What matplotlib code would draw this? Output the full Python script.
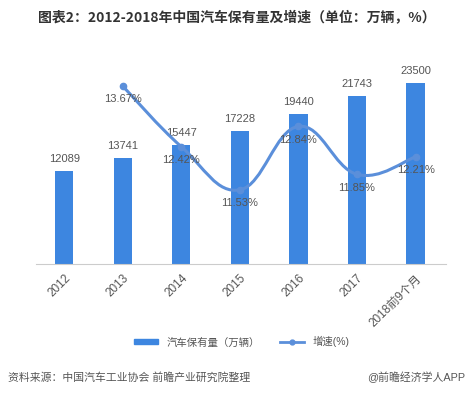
import matplotlib
matplotlib.use("Agg")
import matplotlib.pyplot as plt
from matplotlib.path import Path
from matplotlib.patches import PathPatch
from matplotlib.lines import Line2D
from matplotlib.patches import Patch

plt.rcParams['font.family'] = ['Liberation Sans', 'Noto Sans CJK SC', 'DejaVu Sans']

anos = ["2012", "2013", "2014", "2015", "2016", "2017", "2018前9个月"]
frota = [12089, 13741, 15447, 17228, 19440, 21743, 23500]
anos_taxa = [1, 2, 3, 4, 5, 6]
taxa = [13.67, 12.42, 11.53, 12.84, 11.85, 12.21]

cor_barra = "#3d86e0"
cor_linha = "#5b8fda"
cor_texto = "#555555"

fig = plt.figure(figsize=(4.74, 3.93), dpi=100)
ax = fig.add_axes([0.076, 0.328, 0.865, 0.511])
x = list(range(len(anos)))
ax.bar(x, frota, width=0.31, color=cor_barra, zorder=2)
ax.set_xlim(-0.48, 6.52)
ax.set_ylim(0, 26000)
for xi, v in zip(x, frota):
    ax.annotate(str(v), (xi, v), xytext=(0, 5), textcoords="offset points",
                ha="center", va="bottom", fontsize=8, color=cor_texto)

for s in ["top", "right", "left"]:
    ax.spines[s].set_visible(False)
ax.spines["bottom"].set_color("#cccccc")
ax.set_yticks([])
ax.set_xticks(x)
ax.set_xticklabels(anos, rotation=45, ha="right", rotation_mode="anchor",
                   fontsize=8.5, color=cor_texto)
ax.tick_params(axis="x", length=0, pad=6)

# linha suavizada (bezier entre os pontos)
ax2 = ax.twinx()
ax2.set_ylim(10.0, 14.14)
ax2.axis("off")
pts = list(zip(anos_taxa, taxa))
t = 0.2
verts = [pts[0]]
codes = [Path.MOVETO]
for i in range(len(pts) - 1):
    p0 = pts[i - 1] if i > 0 else pts[i]
    p1 = pts[i]
    p2 = pts[i + 1]
    p3 = pts[i + 2] if i + 2 < len(pts) else pts[i + 1]
    c1 = (p1[0] + (p2[0] - p0[0]) * t, p1[1] + (p2[1] - p0[1]) * t)
    c2 = (p2[0] - (p3[0] - p1[0]) * t, p2[1] - (p3[1] - p1[1]) * t)
    verts += [c1, c2, p2]
    codes += [Path.CURVE4] * 3
ax2.add_patch(PathPatch(Path(verts, codes), facecolor="none", edgecolor=cor_linha,
                        lw=2.2, zorder=3))
ax2.plot(anos_taxa, taxa, "o", color=cor_linha, ms=4.5, zorder=4)
for xi, v in zip(anos_taxa, taxa):
    ax2.annotate(f"{v:.2f}%", (xi, v), xytext=(0, -6), textcoords="offset points",
                 ha="center", va="top", fontsize=8, color=cor_texto)

fig.text(0.5, 0.954, "图表2：2012-2018年中国汽车保有量及增速（单位：万辆，%）",
         ha="center", va="center", fontsize=10, fontweight="bold", color="#333333",
         family=["Noto Sans CJK SC", "DejaVu Sans"])

handles = [Patch(color=cor_barra),
           Line2D([0], [0], color=cor_linha, lw=2, marker="o", ms=3.5)]
fig.legend(handles, ["汽车保有量（万辆）", "增速(%)"], loc="center",
           bbox_to_anchor=(0.51, 0.13), ncol=2, frameon=False, fontsize=7.5,
           handlelength=2.3, handleheight=0.35, columnspacing=2.0,
           labelcolor=cor_texto)

fig.text(0.017, 0.04, "资料来源：中国汽车工业协会 前瞻产业研究院整理", ha="left",
         va="center", fontsize=7.8, style="italic", color=cor_texto)
fig.text(0.982, 0.04, "@前瞻经济学人APP", ha="right", va="center",
         fontsize=7.8, color=cor_texto)

fig.savefig("out.png", dpi=100)
